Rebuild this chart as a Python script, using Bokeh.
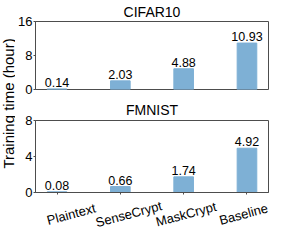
import math
from bokeh.plotting import figure
from bokeh.models import Range1d, FixedTicker, ColumnDataSource
from bokeh.layouts import row, column
from bokeh.embed import file_html
from bokeh.resources import INLINE
from bokeh.core.properties import value

methods = ["Plaintext", "SenseCrypt", "MaskCrypt", "Baseline"]
cifar10_hours = [0.14, 2.03, 4.88, 10.93]
fmnist_hours = [0.08, 0.66, 1.74, 4.92]
cifar10_ticks = [0, 8, 16]
fmnist_ticks = [0, 4, 8]
panel_titles = ["CIFAR10", "FMNIST"]
y_label = "Training time (hour)"

FONT = "Liberation Sans"
BAR = "#7eb0d5"
EDGE = "#4d4d4d"

LAB_W = 15
P_W = 259
LEFT = 18
RIGHT = 6
X_PAD = 0.34
FRAME_W = P_W - LEFT - RIGHT
N = len(methods)
X_LO, X_HI = -X_PAD, N - 1 + X_PAD
PPU = FRAME_W / (X_HI - X_LO)

xs = list(range(N))
shared_x = Range1d(X_LO, X_HI)


def panel(title, vals, ticks, height, top, bottom, standoff, show_ticks):
    p = figure(width=P_W, height=height, x_range=shared_x,
               y_range=Range1d(ticks[0], ticks[-1]),
               output_backend="svg", toolbar_location=None,
               min_border_left=LEFT, min_border_right=RIGHT,
               min_border_top=top, min_border_bottom=bottom)
    p.title.text = title
    p.title.align = "center"
    p.title.text_font = FONT
    p.title.text_font_size = "14px"
    p.title.text_font_style = "normal"
    p.title.text_color = "black"
    p.title.standoff = standoff
    p.grid.visible = False
    p.outline_line_color = EDGE
    p.outline_line_alpha = 1

    src = ColumnDataSource(dict(x=xs, top=vals, label=[f"{v:.2f}" for v in vals]))
    p.vbar(x="x", top="top", width=0.31, bottom=0, source=src,
           fill_color=BAR, line_color=BAR)
    p.text(x="x", y="top", text="label", source=src, text_align="center",
           text_baseline="bottom", y_offset=-2, text_font=value(FONT),
           text_font_size="12.5px", text_color="black")

    ya = p.yaxis[0]
    ya.ticker = FixedTicker(ticks=ticks)
    ya.major_label_text_font = FONT
    ya.major_label_text_font_size = "13px"
    ya.major_label_text_color = "black"
    ya.major_label_standoff = 1
    ya.major_tick_out = 2
    ya.major_tick_in = 0
    ya.minor_tick_out = 0
    ya.minor_tick_in = 0
    ya.axis_line_color = EDGE
    ya.major_tick_line_color = EDGE

    xa = p.xaxis[0]
    if show_ticks:
        xa.ticker = FixedTicker(ticks=xs)
        xa.major_label_overrides = {i: "" for i in xs}
        xa.major_label_text_font_size = "0px"
        xa.major_label_standoff = 0
        xa.major_tick_out = 2
        xa.major_tick_in = 0
        xa.minor_tick_out = 0
        xa.minor_tick_in = 0
        xa.axis_line_color = EDGE
        xa.major_tick_line_color = EDGE
    else:
        xa.visible = False
    return p


p1 = panel(panel_titles[0], cifar10_hours, cifar10_ticks, 96, 14, 7, 3, False)
p2 = panel(panel_titles[1], fmnist_hours, fmnist_ticks, 103, 22, 7, 6, True)

# category labels, rotated and centred under each bar
p3 = figure(width=P_W, height=35,
            x_range=Range1d(X_LO - LEFT / PPU, X_HI + RIGHT / PPU),
            y_range=Range1d(0, 1), x_axis_type=None, y_axis_type=None,
            output_backend="svg", toolbar_location=None, min_border=0)
p3.outline_line_color = None
p3.grid.visible = False
p3.text(x=xs, y=[0.58] * N, text=methods, angle=math.radians(15),
        text_align="center", text_baseline="middle", text_font=value(FONT),
        text_font_size="13px", text_color="black")

lab = figure(width=LAB_W, height=234, x_range=Range1d(0, 1), y_range=Range1d(0, 1),
             x_axis_type=None, y_axis_type=None, output_backend="svg",
             toolbar_location=None, min_border=0)
lab.outline_line_color = None
lab.grid.visible = False
lab.text(x=[0.5], y=[0.56], text=[y_label], angle=math.pi / 2,
         text_align="center", text_baseline="middle", text_font=value(FONT),
         text_font_size="15px", text_color="black")

layout = row(lab, column(p1, p2, p3))
open("out.html", "w").write(file_html(layout, INLINE))
